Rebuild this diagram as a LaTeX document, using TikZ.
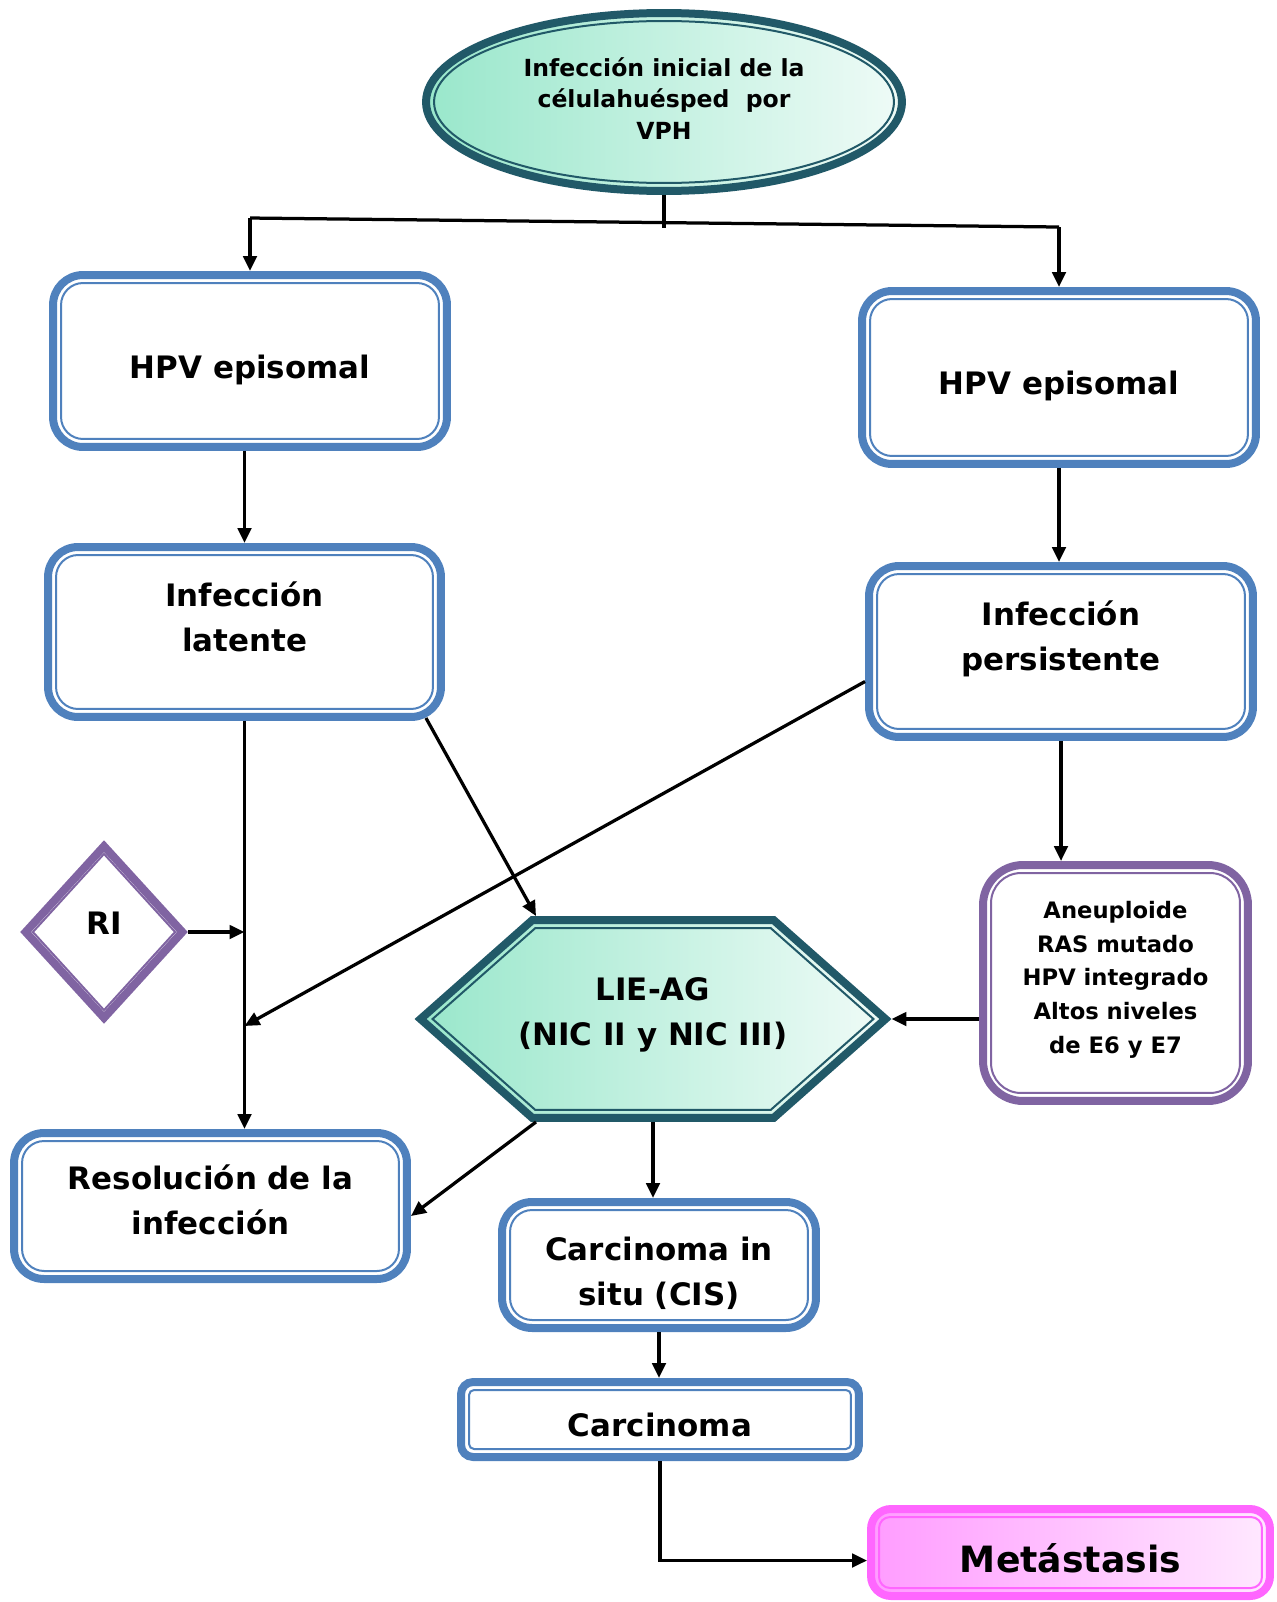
\documentclass[tikz,border=0pt]{standalone}
\usepackage{fontspec}
\setmainfont{DejaVu Sans}
\usetikzlibrary{shapes.geometric, shapes.symbols, arrows.meta, calc, positioning}

\begin{document}
\begin{tikzpicture}[
  x=0.02cm, y=-0.02cm,
  % ---- styles ----
  box/.style 2 args={%
    draw=#1, line width=0.16cm, fill=white, rounded corners=#2,
    align=center, inner sep=2pt, font=\fmain,
  },
  rim/.style={draw=#1, line width=0.04cm, fill=none, inner sep=0pt},
  hexa/.style={signal, signal to=east and west, signal pointer angle=83},
  conn/.style={draw=black, line width=0.065cm},
  arr/.style={conn, -{Triangle[length=0.3cm, width=0.27cm]}},
]

% ---- colour palette ----
\definecolor{Cblue}{HTML}{4F81BD}     % stage boxes
\definecolor{Cviolet}{HTML}{8064A2}   % RI, alterations
\definecolor{Cteal}{HTML}{215968}     % start ellipse, LIE-AG
\definecolor{Cmint}{HTML}{99E7CB}
\definecolor{Cmintl}{HTML}{EFFBF7}
\definecolor{Cpink}{HTML}{FF66FF}     % metastasis
\definecolor{Cpinkd}{HTML}{FF9CFF}
\definecolor{Cpinkl}{HTML}{FFE9FF}

\def\fmain{\bfseries\fontsize{17.6}{25.5}\selectfont}   % box text
\def\ftop{\bfseries\fontsize{13.4}{18.1}\selectfont}    % ellipse text
\def\fane{\bfseries\fontsize{12.9}{19.3}\selectfont}    % alterations list

\useasboundingbox (0,0) rectangle (1277,1602);

% =========================================================
% start
% =========================================================
\node[ellipse, draw=Cteal, line width=0.16cm, left color=Cmint, right color=Cmintl,
      minimum width=9.52cm, minimum height=3.56cm, inner sep=0pt,
      align=center, font=\ftop, text depth=4pt]
    (top) at (664,102) {Infección inicial de la\\célulahuésped\ \ por\\VPH};
\node[ellipse, rim=Cteal, minimum width=9.2cm, minimum height=3.24cm] at (top) {};

% =========================================================
% left / right branches
% =========================================================
\node[box={Cblue}{0.6cm}, minimum width=7.88cm, minimum height=3.44cm, text height=23.4pt]
    (epiL) at (250,361) {HPV episomal};
\node[box={Cblue}{0.6cm}, minimum width=7.88cm, minimum height=3.46cm, text height=23.4pt]
    (epiR) at (1059,377.5) {HPV episomal};
\node[box={Cblue}{0.6cm}, minimum width=7.86cm, minimum height=3.40cm, text depth=17.4pt]
    (lat) at (244.5,632) {Infección\\latente};
\node[box={Cblue}{0.6cm}, minimum width=7.68cm, minimum height=3.42cm, text depth=18pt]
    (per) at (1061,651.5) {Infección\\persistente};

\node[diamond, draw=Cviolet, line width=0.16cm, fill=white, inner sep=0pt,
      minimum width=3.2cm, minimum height=3.5cm, font=\fmain, text depth=10pt]
    (ri) at (104,932) {RI};
\node[diamond, rim=Cviolet, minimum width=2.86cm, minimum height=3.14cm] at (ri) {};

\node[box={Cviolet}{0.8cm}, minimum width=5.30cm, minimum height=4.72cm,
      font=\fane, text depth=6.5pt]
    (ane) at (1115.5,983)
    {Aneuploide\\RAS mutado\\HPV integrado\\Altos niveles\\de E6 y E7};

\node[hexa, draw=Cteal, line width=0.16cm, left color=Cmint, right color=Cmintl,
      minimum width=9.3cm, minimum height=3.96cm, inner ysep=0pt, inner xsep=-0.5cm,
      align=center, font=\fmain, text depth=8.8pt]
    (lie) at (653,1019) {LIE-AG\\(NIC II y NIC III)};
\node[hexa, rim=Cteal, minimum width=8.82cm, minimum height=3.64cm] at (lie) {};

% =========================================================
% outcomes
% =========================================================
\node[box={Cblue}{0.6cm}, minimum width=7.86cm, minimum height=2.92cm, text depth=7.5pt]
    (res) at (210.5,1206) {Resolución de la\\infección};
\node[box={Cblue}{0.6cm}, minimum width=6.28cm, minimum height=2.52cm, text height=48pt]
    (cis) at (659,1265) {Carcinoma in\\situ (CIS)};
\node[box={Cblue}{0.24cm}, minimum width=7.96cm, minimum height=1.5cm, text height=19.2pt]
    (car) at (660,1419.5) {Carcinoma};
\node[box={Cpink}{0.4cm}, left color=Cpinkd, right color=Cpinkl,
      minimum width=7.98cm, minimum height=1.74cm, text height=23.5pt,
      font=\bfseries\fontsize{20.6}{24}\selectfont]
    (met) at (1070.5,1552.5) {Metástasis};

% inner rims of the rounded boxes
\foreach \n/\c/\r in {epiL/Cblue/0.44cm, epiR/Cblue/0.44cm, lat/Cblue/0.44cm,
    per/Cblue/0.44cm, res/Cblue/0.44cm, cis/Cblue/0.44cm, car/Cblue/0.1cm,
    ane/Cviolet/0.6cm, met/Cpink/0.22cm}
  \draw[rim=\c, rounded corners=\r]
    ($(\n.north west)+(12,12)$) rectangle ($(\n.south east)+(-12,-12)$);

% =========================================================
% connectors
% =========================================================
\coordinate (jL) at ($(epiL.north)+(0,-53)$);
\coordinate (jR) at ($(epiR.north)+(0,-60)$);
\coordinate (jC) at (top.south |- 0,228);
\draw[conn] (top.south) -- (jC);
\draw[conn] (jL) -- (jR);
\draw[arr] (jL) -- (epiL.north);
\draw[arr] (jR) -- (epiR.north);

\draw[arr] (lat.north |- epiL.south) -- (lat.north);
\draw[arr] (epiR.south) -- (epiR.south |- per.north);
\draw[arr] (lat.south) -- (lat.south |- res.north);

\coordinate (mid) at (lat.south |- 0,1026);
\draw[arr] (ri.east) -- (ri.east -| lat.south);
\draw[arr] ($(per.west)+(0,30)$) -- (mid);
\draw[arr] ($(lat.south east)+(-19,-3)$) -- ($(lie.north)+(-117,0)$);

\draw[arr] (per.south) -- (per.south |- ane.north);
\draw[arr] (lie.east -| ane.west) -- (lie.east);
\draw[arr] ($(lie.south)+(-117,0)$) -- ($(res.east)+(0,10)$);
\draw[arr] (lie.south) -- (lie.south |- cis.north);
\draw[arr] (cis.south) -- (cis.south |- car.north);
\draw[arr] (car.south) |- ($(met.west)+(0,8)$);

\end{tikzpicture}
\end{document}
